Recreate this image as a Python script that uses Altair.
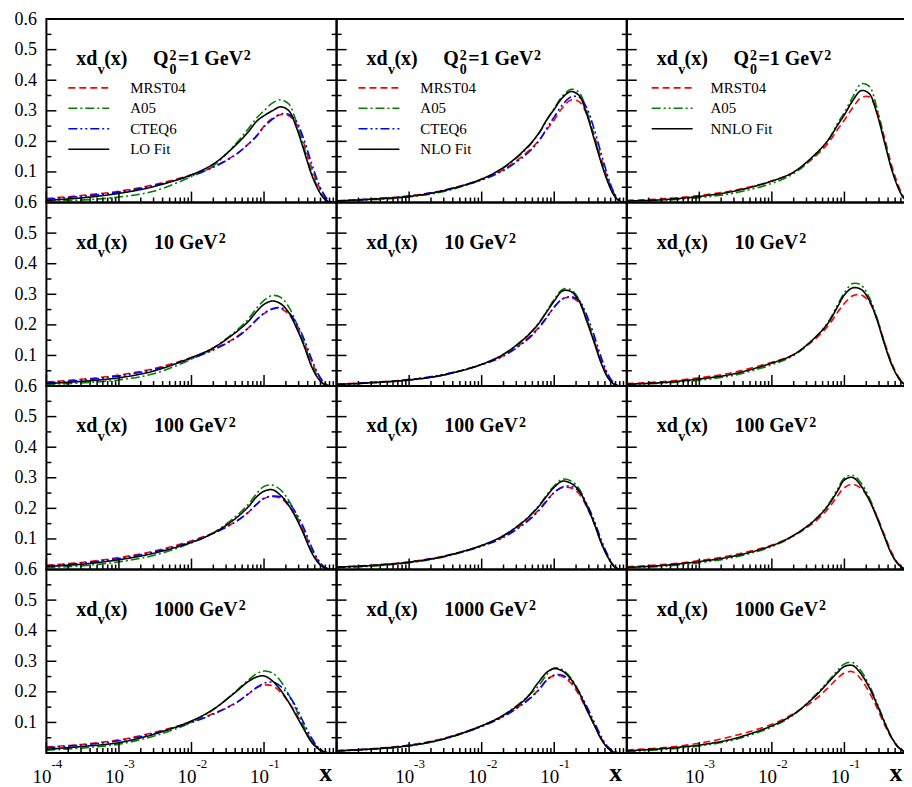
import altair as alt
import pandas as pd

SERIF = "Liberation Serif"
W, H = 291, 184

# x grid shared by all curves
X = [1e-4, 3e-4, 1e-3, 3e-3, 1e-2, 2e-2, 4e-2, 0.06, 0.08, 0.1, 0.13, 0.17,
     0.22, 0.28, 0.35, 0.45, 0.55, 0.65, 0.75, 0.85, 1.0]

# ---- LO column ----
LO_Q1_MRST = [0.013,0.023,0.037,0.058,0.091,0.117,0.156,0.19,0.218,0.25,0.275,0.287,0.284,0.256,0.197,0.115,0.06,0.028,0.01,0.002,0]
LO_Q1_A05 = [0.004,0.008,0.018,0.037,0.085,0.12,0.19,0.24,0.278,0.30,0.325,0.336,0.322,0.262,0.186,0.10,0.05,0.02,0.006,0.001,0]
LO_Q1_CTEQ = [0.011,0.02,0.034,0.055,0.088,0.115,0.155,0.19,0.22,0.248,0.272,0.29,0.288,0.265,0.21,0.13,0.07,0.032,0.01,0.002,0]
LO_Q1_FIT = [0.007,0.015,0.03,0.052,0.091,0.126,0.186,0.23,0.267,0.284,0.30,0.313,0.30,0.245,0.175,0.093,0.045,0.017,0.005,0.001,0]

LO_Q10_MRST = [0.013,0.022,0.036,0.057,0.093,0.12,0.158,0.189,0.218,0.237,0.251,0.253,0.234,0.196,0.147,0.082,0.038,0.014,0.003,0,0]
LO_Q10_A05 = [0.005,0.01,0.02,0.04,0.088,0.124,0.178,0.218,0.256,0.28,0.296,0.29,0.258,0.205,0.145,0.072,0.03,0.009,0.002,0,0]
LO_Q10_CTEQ = [0.011,0.019,0.033,0.054,0.09,0.118,0.156,0.188,0.218,0.238,0.253,0.256,0.24,0.205,0.158,0.09,0.042,0.015,0.003,0,0]
LO_Q10_FIT = [0.008,0.015,0.027,0.049,0.093,0.125,0.174,0.21,0.245,0.267,0.278,0.269,0.24,0.19,0.136,0.065,0.027,0.008,0.002,0,0]

LO_Q100_MRST = [0.014,0.023,0.039,0.06,0.094,0.12,0.156,0.186,0.214,0.232,0.238,0.232,0.208,0.172,0.128,0.068,0.03,0.01,0.002,0,0]
LO_Q100_A05 = [0.006,0.012,0.025,0.046,0.087,0.12,0.172,0.212,0.25,0.272,0.276,0.26,0.225,0.176,0.122,0.06,0.025,0.008,0.002,0,0]
LO_Q100_CTEQ = [0.012,0.021,0.036,0.057,0.091,0.118,0.155,0.186,0.215,0.233,0.24,0.237,0.218,0.182,0.138,0.075,0.034,0.012,0.003,0,0]
LO_Q100_FIT = [0.01,0.017,0.032,0.053,0.089,0.119,0.166,0.204,0.239,0.256,0.261,0.242,0.209,0.166,0.117,0.057,0.024,0.008,0.002,0,0]

LO_Q1000_MRST = [0.02,0.028,0.043,0.067,0.102,0.129,0.163,0.192,0.214,0.222,0.22,0.198,0.165,0.127,0.085,0.042,0.017,0.006,0.001,0,0]
LO_Q1000_A05 = [0.009,0.016,0.029,0.055,0.10,0.142,0.20,0.238,0.26,0.268,0.262,0.235,0.19,0.14,0.09,0.04,0.016,0.005,0.001,0,0]
LO_Q1000_CTEQ = [0.017,0.026,0.04,0.064,0.10,0.127,0.162,0.193,0.215,0.228,0.232,0.218,0.188,0.148,0.10,0.05,0.02,0.006,0.001,0,0]
LO_Q1000_FIT = [0.012,0.021,0.034,0.061,0.105,0.143,0.198,0.233,0.249,0.252,0.236,0.205,0.165,0.121,0.08,0.036,0.015,0.005,0.001,0,0]

# ---- NLO column ----
NLO_Q1_MRST = [0.006,0.012,0.022,0.04,0.076,0.108,0.16,0.2,0.24,0.27,0.31,0.335,0.33,0.29,0.225,0.14,0.077,0.035,0.011,0.002,0]
NLO_Q1_A05 = [0.004,0.009,0.018,0.036,0.075,0.113,0.172,0.222,0.272,0.308,0.348,0.37,0.36,0.30,0.22,0.13,0.07,0.03,0.01,0.002,0]
NLO_Q1_CTEQ = [0.005,0.011,0.021,0.04,0.074,0.105,0.155,0.198,0.245,0.28,0.32,0.345,0.345,0.31,0.245,0.155,0.085,0.038,0.012,0.003,0]
NLO_Q1_FIT = [0.005,0.011,0.02,0.039,0.077,0.115,0.175,0.224,0.273,0.305,0.343,0.363,0.35,0.29,0.213,0.126,0.066,0.028,0.009,0.002,0]

NLO_Q10_MRST = [0.006,0.012,0.021,0.037,0.071,0.10,0.15,0.19,0.228,0.258,0.285,0.289,0.272,0.22,0.158,0.08,0.033,0.01,0.002,0,0]
NLO_Q10_A05 = [0.004,0.01,0.019,0.036,0.071,0.104,0.158,0.203,0.248,0.283,0.316,0.315,0.283,0.22,0.152,0.074,0.029,0.008,0.001,0,0]
NLO_Q10_CTEQ = [0.005,0.011,0.021,0.038,0.07,0.098,0.146,0.187,0.226,0.258,0.285,0.292,0.28,0.232,0.17,0.09,0.038,0.012,0.002,0,0]
NLO_Q10_FIT = [0.005,0.011,0.02,0.036,0.071,0.104,0.158,0.202,0.245,0.278,0.311,0.309,0.278,0.213,0.147,0.071,0.027,0.008,0.001,0,0]

NLO_Q100_MRST = [0.008,0.014,0.025,0.044,0.078,0.107,0.155,0.193,0.228,0.252,0.268,0.267,0.248,0.205,0.155,0.087,0.043,0.014,0.003,0,0]
NLO_Q100_A05 = [0.006,0.011,0.022,0.041,0.078,0.111,0.163,0.206,0.246,0.274,0.295,0.29,0.264,0.212,0.156,0.084,0.04,0.013,0.002,0,0]
NLO_Q100_CTEQ = [0.007,0.013,0.024,0.043,0.076,0.105,0.152,0.19,0.226,0.252,0.27,0.272,0.256,0.215,0.165,0.094,0.046,0.016,0.003,0,0]
NLO_Q100_FIT = [0.008,0.013,0.024,0.043,0.079,0.111,0.162,0.204,0.242,0.269,0.289,0.282,0.258,0.209,0.155,0.084,0.04,0.013,0.002,0,0]

NLO_Q1000_MRST = [0.008,0.014,0.026,0.048,0.089,0.121,0.168,0.205,0.24,0.253,0.25,0.228,0.19,0.142,0.097,0.047,0.018,0.005,0.001,0,0]
NLO_Q1000_A05 = [0.006,0.012,0.023,0.045,0.088,0.124,0.178,0.218,0.258,0.278,0.272,0.245,0.20,0.145,0.096,0.044,0.016,0.004,0.001,0,0]
NLO_Q1000_CTEQ = [0.007,0.013,0.025,0.047,0.087,0.119,0.166,0.204,0.24,0.255,0.254,0.235,0.20,0.153,0.105,0.052,0.02,0.006,0.001,0,0]
NLO_Q1000_FIT = [0.007,0.013,0.024,0.046,0.089,0.124,0.176,0.23,0.265,0.276,0.268,0.241,0.198,0.143,0.095,0.043,0.016,0.004,0.001,0,0]

# ---- NNLO column ----
NNLO_Q1_MRST = [0.007,0.012,0.023,0.04,0.071,0.098,0.152,0.195,0.238,0.27,0.31,0.343,0.345,0.30,0.22,0.12,0.058,0.02,0.004,0,0]
NNLO_Q1_A05 = [0.003,0.007,0.016,0.031,0.063,0.095,0.155,0.205,0.258,0.295,0.345,0.388,0.38,0.31,0.215,0.11,0.05,0.016,0.003,0,0]
NNLO_Q1_FIT = [0.005,0.009,0.02,0.037,0.07,0.10,0.159,0.205,0.252,0.287,0.333,0.366,0.356,0.292,0.205,0.107,0.049,0.016,0.002,0,0]

NNLO_Q10_MRST = [0.008,0.014,0.027,0.045,0.078,0.103,0.155,0.198,0.24,0.27,0.295,0.298,0.275,0.22,0.15,0.075,0.032,0.01,0.002,0,0]
NNLO_Q10_A05 = [0.004,0.009,0.019,0.035,0.07,0.10,0.16,0.21,0.265,0.305,0.335,0.33,0.29,0.225,0.148,0.07,0.028,0.008,0.001,0,0]
NNLO_Q10_FIT = [0.006,0.011,0.023,0.04,0.075,0.103,0.16,0.207,0.258,0.298,0.321,0.316,0.281,0.218,0.143,0.069,0.029,0.008,0.001,0,0]

NNLO_Q100_MRST = [0.009,0.016,0.029,0.048,0.08,0.11,0.158,0.2,0.24,0.268,0.279,0.265,0.228,0.175,0.118,0.055,0.02,0.005,0,0,0]
NNLO_Q100_A05 = [0.005,0.01,0.022,0.04,0.075,0.11,0.165,0.213,0.262,0.3,0.308,0.283,0.235,0.175,0.114,0.05,0.018,0.004,0,0,0]
NNLO_Q100_FIT = [0.007,0.013,0.026,0.044,0.078,0.112,0.164,0.21,0.256,0.293,0.301,0.273,0.227,0.17,0.112,0.049,0.018,0.004,0,0,0]

NNLO_Q1000_MRST = [0.01,0.017,0.032,0.056,0.094,0.129,0.176,0.214,0.244,0.262,0.266,0.241,0.198,0.149,0.097,0.047,0.018,0.006,0.001,0,0]
NNLO_Q1000_A05 = [0.005,0.011,0.023,0.043,0.085,0.125,0.19,0.235,0.27,0.291,0.296,0.268,0.222,0.165,0.108,0.05,0.02,0.006,0.001,0,0]
NNLO_Q1000_FIT = [0.007,0.014,0.026,0.047,0.089,0.127,0.187,0.231,0.263,0.283,0.286,0.258,0.214,0.16,0.105,0.05,0.02,0.007,0.001,0,0]

Q_LABELS = ["1", "10", "100", "1000"]

GRID = [
    [[("MRST04", LO_Q1_MRST), ("A05", LO_Q1_A05), ("CTEQ6", LO_Q1_CTEQ), ("LO Fit", LO_Q1_FIT)],
     [("MRST04", NLO_Q1_MRST), ("A05", NLO_Q1_A05), ("CTEQ6", NLO_Q1_CTEQ), ("NLO Fit", NLO_Q1_FIT)],
     [("MRST04", NNLO_Q1_MRST), ("A05", NNLO_Q1_A05), ("NNLO Fit", NNLO_Q1_FIT)]],
    [[("MRST04", LO_Q10_MRST), ("A05", LO_Q10_A05), ("CTEQ6", LO_Q10_CTEQ), ("LO Fit", LO_Q10_FIT)],
     [("MRST04", NLO_Q10_MRST), ("A05", NLO_Q10_A05), ("CTEQ6", NLO_Q10_CTEQ), ("NLO Fit", NLO_Q10_FIT)],
     [("MRST04", NNLO_Q10_MRST), ("A05", NNLO_Q10_A05), ("NNLO Fit", NNLO_Q10_FIT)]],
    [[("MRST04", LO_Q100_MRST), ("A05", LO_Q100_A05), ("CTEQ6", LO_Q100_CTEQ), ("LO Fit", LO_Q100_FIT)],
     [("MRST04", NLO_Q100_MRST), ("A05", NLO_Q100_A05), ("CTEQ6", NLO_Q100_CTEQ), ("NLO Fit", NLO_Q100_FIT)],
     [("MRST04", NNLO_Q100_MRST), ("A05", NNLO_Q100_A05), ("NNLO Fit", NNLO_Q100_FIT)]],
    [[("MRST04", LO_Q1000_MRST), ("A05", LO_Q1000_A05), ("CTEQ6", LO_Q1000_CTEQ), ("LO Fit", LO_Q1000_FIT)],
     [("MRST04", NLO_Q1000_MRST), ("A05", NLO_Q1000_A05), ("CTEQ6", NLO_Q1000_CTEQ), ("NLO Fit", NLO_Q1000_FIT)],
     [("MRST04", NNLO_Q1000_MRST), ("A05", NNLO_Q1000_A05), ("NNLO Fit", NNLO_Q1000_FIT)]],
]

# ticks and labels
X_MAJOR = [1e-4, 1e-3, 1e-2, 1e-1]
X_MINOR = [m * 10.0 ** e for e in (-4, -3, -2, -1) for m in (2, 3, 4, 5, 6, 7, 8, 9)]
Y_MAJOR = [0.1, 0.2, 0.3, 0.4, 0.5]
Y_MINOR = [0.05, 0.15, 0.25, 0.35, 0.45, 0.55]
Y_LABELS = [0.1, 0.2, 0.3, 0.4, 0.5, 0.6]
X_LABEL_VALUES = [1e-4, 1e-3, 1e-2, 1e-1]
X_LABEL_EXPS = ["-4", "-3", "-2", "-1"]

COLORS = {"MRST04": "#ff0000", "A05": "#008000", "CTEQ6": "#0000ff"}
DASH_RED = [7, 4]
DASH_DOT = [9, 3, 2, 3]
DASH_DOT_DOT = [9, 3, 2, 3, 2, 3]
SOLID = [1, 0]

ONE = pd.DataFrame({"k": [0]})


def xscale():
    return alt.Scale(type="log", domain=[1e-4, 1], nice=False)


def yscale():
    return alt.Scale(domain=[0, 0.6], nice=False, zero=False)


def txt(s, x, y, size, bold=True, align="left"):
    return alt.Chart(ONE).mark_text(
        x=x, y=y, align=align, baseline="alphabetic", font=SERIF,
        fontSize=size, fontWeight="bold" if bold else "normal", color="black"
    ).encode(text=alt.value(s))


def style_for(name, col):
    if name == "MRST04":
        return COLORS[name], DASH_RED
    if name == "A05":
        return COLORS[name], (DASH_DOT_DOT if col == 2 else DASH_DOT)
    if name == "CTEQ6":
        return COLORS[name], DASH_DOT_DOT
    return "#000000", SOLID


def panel(row, col):
    series = GRID[row][col]
    names = [n for n, _ in series]
    colors = [style_for(n, col)[0] for n in names]
    dashes = [style_for(n, col)[1] for n in names]
    rows = []
    for n, vals in series:
        for xv, yv in zip(X, vals):
            rows.append({"x": xv, "y": yv, "name": n})
    df = pd.DataFrame(rows)
    cscale = alt.Scale(domain=names, range=colors)
    dscale = alt.Scale(domain=names, range=dashes)

    if col == 0:
        yaxis = alt.Axis(values=Y_LABELS, format=".1f", ticks=False, domain=False,
                         grid=False, labelPadding=10, labelFont=SERIF, title=None,
                         labelFontSize=18, labelColor="black", labelOverlap=False)
    else:
        yaxis = None

    layers = []
    curves = alt.Chart(df).mark_line(strokeWidth=1.6, interpolate="catmull-rom", clip=True).encode(
        x=alt.X("x:Q", scale=xscale(), axis=None),
        y=alt.Y("y:Q", scale=yscale(), axis=yaxis),
        color=alt.Color("name:N", scale=cscale, legend=None),
        strokeDash=alt.StrokeDash("name:N", scale=dscale, legend=None),
    )
    layers.append(curves)

    # inward ticks
    for vals, ln in ((X_MAJOR, 11), (X_MINOR, 5)):
        layers.append(alt.Chart(pd.DataFrame({"v": vals})).mark_rule(color="black", strokeWidth=1.5).encode(
            x=alt.X("v:Q", scale=xscale(), axis=None), y=alt.value(H), y2=alt.value(H - ln)))
    for vals, ln in ((Y_MAJOR, 10), (Y_MINOR, 5)):
        d = pd.DataFrame({"v": vals})
        layers.append(alt.Chart(d).mark_rule(color="black", strokeWidth=1.5).encode(
            y=alt.Y("v:Q", scale=yscale(), axis=None), x=alt.value(0), x2=alt.value(ln)))
        layers.append(alt.Chart(d).mark_rule(color="black", strokeWidth=1.5).encode(
            y=alt.Y("v:Q", scale=yscale(), axis=None), x=alt.value(W), x2=alt.value(W - ln)))

    # legend (top row only)
    if row == 0:
        leg = pd.DataFrame({"name": names})
        ly = alt.Y("name:N", scale=alt.Scale(type="point", domain=names,
                                             range=[69, 69 + 20.5 * (len(names) - 1)], padding=0),
                   axis=None)
        layers.append(alt.Chart(leg).mark_rule(strokeWidth=1.6).encode(
            x=alt.value(22 if col < 2 else 25), x2=alt.value(63 if col < 2 else 66), y=ly,
            color=alt.Color("name:N", scale=cscale, legend=None),
            strokeDash=alt.StrokeDash("name:N", scale=dscale, legend=None)))
        layers.append(alt.Chart(leg).mark_text(align="left", baseline="middle", font=SERIF,
                                               fontSize=15, color="black").encode(
            x=alt.value(84), y=ly, text="name:N"))

    # panel title
    layers += [txt("xd", 30, 46.5, 20), txt("v", 51.5, 55, 14), txt("(x)", 58, 46.5, 20)]
    if row == 0:
        layers += [txt("Q", 107, 46.5, 20), txt("0", 123.5, 55, 14), txt("2", 123.5, 41, 14),
                   txt("=1 GeV", 132, 46.5, 20), txt("2", 198, 41, 14)]
    else:
        q = Q_LABELS[row]
        w = 20 * (0.5 * len(q) + 0.25 + 0.778 + 0.444 + 0.722)
        layers += [txt(q + " GeV", 108, 46.5, 20), txt("2", 108 + w + 1, 41, 14)]

    # x tick labels (bottom row)
    if row == 3:
        start = 0 if col == 0 else 1
        xl = pd.DataFrame({"v": X_LABEL_VALUES[start:], "e": X_LABEL_EXPS[start:]})
        layers.append(alt.Chart(xl).mark_text(align="right", baseline="alphabetic", dx=5,
                                              font=SERIF, fontSize=19, color="black").encode(
            x=alt.X("v:Q", scale=xscale(), axis=None), y=alt.value(H + 30), text=alt.value("10")))
        layers.append(alt.Chart(xl).mark_text(align="left", baseline="alphabetic", dx=5,
                                              font=SERIF, fontSize=13, color="black").encode(
            x=alt.X("v:Q", scale=xscale(), axis=None), y=alt.value(H + 15), text="e:N"))
        layers.append(alt.Chart(pd.DataFrame({"v": [1.0]})).mark_text(
            align="center", baseline="alphabetic", dx=(-11 if col < 2 else -21), font=SERIF,
            fontSize=26, fontWeight="bold", color="black").encode(
            x=alt.X("v:Q", scale=xscale(), axis=None), y=alt.value(H + 28), text=alt.value("x")))

    return alt.layer(*layers).resolve_scale(y="independent").properties(width=W, height=H)


panels = [panel(r, c) for r in range(4) for c in range(3)]

chart = alt.concat(*panels, columns=3, spacing=0, bounds="flush").resolve_scale(
    color="independent", strokeDash="independent"
).properties(
    padding={"left": 4.5, "top": 0, "right": -15, "bottom": 0},
    background="white",
).configure_view(stroke="black", strokeWidth=2).configure_axis(labelFont=SERIF)

chart.save("out.html", embed_options={"renderer": "svg", "actions": False})
